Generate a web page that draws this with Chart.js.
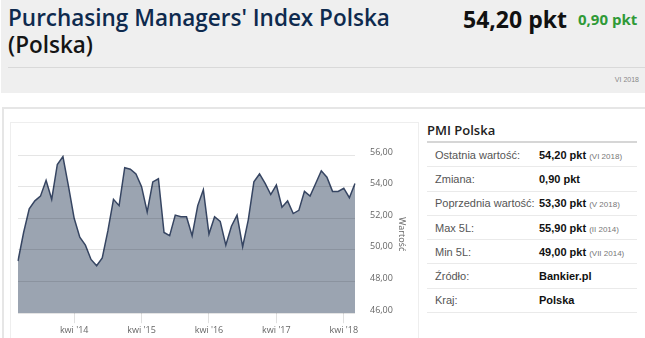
<!DOCTYPE html>
<html>
<head>
<meta charset="utf-8">
<script src="https://cdn.jsdelivr.net/npm/chart.js@4.4.0/dist/chart.umd.min.js"></script>
<style>
	body { margin: 0; width: 645px; height: 338px; overflow: hidden; background: #fff; font-family: "Open Sans", sans-serif; position: relative; }
	#head { position: absolute; left: 1px; top: 0; width: 644px; height: 93px; background: #efefef; }
	#title { position: absolute; left: 7px; top: 4px; font-size: 22.5px; line-height: 27px; font-weight: 600; color: #0e2a4e; }
	#title span { color: #151515; }
	#value { position: absolute; left: 462px; top: 3px; font-size: 23px; font-weight: bold; color: #111; }
	#change { position: absolute; left: 577px; top: 9px; font-size: 15px; font-weight: bold; color: #2f9a37; }
	#sep { position: absolute; left: 7px; top: 67px; width: 638px; height: 1px; background: #d9d9d9; }
	#date { position: absolute; right: 6px; top: 76px; font-size: 7px; color: #888; font-family: Arial, "Liberation Sans", sans-serif; }
	#box { position: absolute; left: 2px; top: 107px; width: 650px; height: 240px; border: 1px solid #e6e6e6; border-width: 2px 0 0 2px; }
	#chartbox { position: absolute; left: 10px; top: 122px; width: 407px; height: 230px; border: 1px solid #eeeeee; }
	#wrap { position: absolute; left: 10px; top: 123px; width: 407px; height: 215px; }
	#side { position: absolute; left: 427px; top: 120px; width: 210px; font-family: Arial, "Liberation Sans", sans-serif; }
	#side h3 { margin: 0; font-family: "Open Sans", sans-serif; font-size: 13px; font-weight: 600; color: #222; height: 21px; line-height: 21px; border-bottom: 2px solid #d6d6d6; }
	#side table { width: 100%; border-collapse: collapse; font-size: 11px; }
	#side td { height: 23.3px; border-bottom: 1px solid #eaeaea; padding: 0; }
	#side td.l { color: #555; padding-left: 8px; width: 104px; }
	#side td.v { color: #111; font-weight: bold; }
	#side td.v small { font-weight: normal; color: #777; font-size: 8px; }
</style>
</head>
<body>
<div id="head">
	<div id="title">Purchasing Managers' Index Polska<br><span>(Polska)</span></div>
	<div id="value">54,20 pkt</div>
	<div id="change">0,90 pkt</div>
	<div id="sep"></div>
	<div id="date">VI 2018</div>
</div>
<div id="box"></div>
<div id="chartbox"></div>
<div id="wrap"><canvas id="mychart"></canvas></div>
<div id="side">
	<h3>PMI Polska</h3>
	<table>
		<tr><td class="l">Ostatnia wartość:</td><td class="v">54,20 pkt <small>(VI 2018)</small></td></tr>
		<tr><td class="l">Zmiana:</td><td class="v">0,90 pkt</td></tr>
		<tr><td class="l">Poprzednia wartość:</td><td class="v">53,30 pkt <small>(V 2018)</small></td></tr>
		<tr><td class="l">Max 5L:</td><td class="v">55,90 pkt <small>(II 2014)</small></td></tr>
		<tr><td class="l">Min 5L:</td><td class="v">49,00 pkt <small>(VII 2014)</small></td></tr>
		<tr><td class="l">Źródło:</td><td class="v">Bankier.pl</td></tr>
		<tr><td class="l">Kraj:</td><td class="v">Polska</td></tr>
	</table>
</div>
<script>
// miesiace od cze 2013 do cze 2018
const monthNames = ["sty", "lut", "mar", "kwi", "maj", "cze", "lip", "sie", "wrz", "paź", "lis", "gru"];
const startYear = 2013;
const startMonth = 5;

const pmi = [49.3, 51.1, 52.6, 53.1, 53.4, 54.4, 53.2, 55.4, 55.9, 54.0,
	52.0, 50.8, 50.3, 49.4, 49.0, 49.5, 51.2, 53.2, 52.8, 55.2,
	55.1, 54.8, 54.0, 52.4, 54.3, 54.5, 51.1, 50.9, 52.2, 52.1,
	52.1, 50.9, 52.8, 53.8, 51.0, 52.1, 51.8, 50.3, 51.5, 52.2,
	50.2, 51.9, 54.3, 54.8, 54.2, 53.5, 54.1, 52.7, 53.1, 52.3,
	52.5, 53.7, 53.4, 54.2, 55.0, 54.6, 53.7, 53.7, 53.9, 53.3, 54.2];

const months = [];
for (let i = 0; i < pmi.length; i++) {
	const m = (startMonth + i) % 12;
	const y = startYear + Math.floor((startMonth + i) / 12);
	months.push(monthNames[m] + " '" + String(y).slice(2));
}

const yTicks = [46, 48, 50, 52, 54, 56];

new Chart("mychart", {
	type: "line",
	data: {
		labels: months,
		datasets: [{
			label: "Wartość",
			data: pmi,
			borderColor: "#364562",
			borderWidth: 1.5,
			backgroundColor: "#9ba4b1",
			fill: "start",
			pointRadius: 0,
			tension: 0
		}]
	},
	options: {
		responsive: true,
		maintainAspectRatio: false,
		animation: false,
		layout: { padding: { left: 8, top: 32, right: 8, bottom: 0 } },
		plugins: { legend: { display: false }, tooltip: { enabled: false } },
		scales: {
			x: {
				border: { display: false },
				grid: { drawOnChartArea: false, drawTicks: true, tickLength: 10, color: "#e0e0e0" },
				ticks: {
					autoSkip: false,
					maxRotation: 0,
					padding: 2,
					color: "#666",
					font: { family: "Open Sans", size: 9 },
					callback: function (v, i) { return months[i].startsWith("kwi") ? months[i] : null; }
				}
			},
			y: {
				position: "right",
				min: yTicks[0],
				max: yTicks[yTicks.length - 1],
				border: { display: false },
				grid: { color: "rgba(0,0,0,0.1)", drawTicks: false, z: 1 },
				afterFit: s => { s.width = 54; },
				ticks: {
					stepSize: 2,
					padding: 15,
					labelOffset: -3,
					color: "#666",
					font: { family: "Open Sans", size: 9 },
					callback: v => v.toFixed(2).replace(".", ",")
				},
				title: { display: true, text: "Wartość", color: "#666", font: { family: "Open Sans", size: 9 }, padding: 2 }
			}
		}
	}
});
</script>
</body>
</html>
